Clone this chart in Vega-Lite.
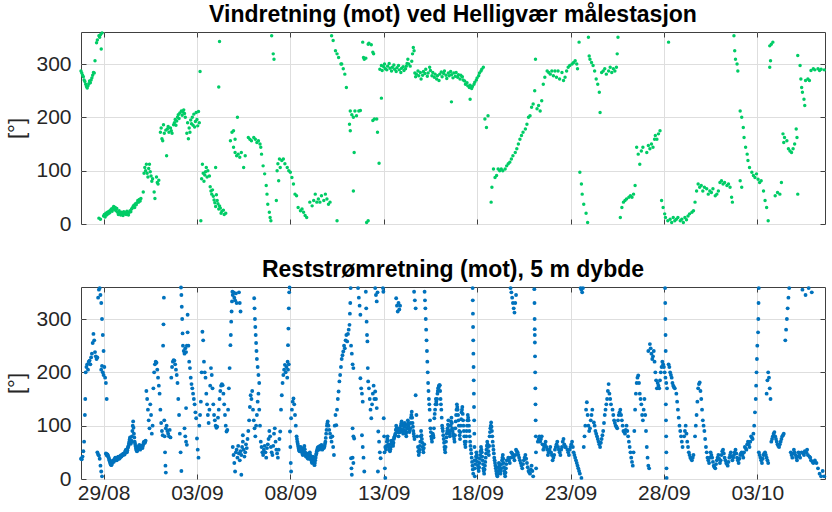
{
"$schema": "https://vega.github.io/schema/vega-lite/v6.json",
"padding": {"left": 5, "top": 3, "right": 5, "bottom": 5},
"config": {
 "font": "Liberation Sans",
 "view": {"stroke": "#404040", "strokeWidth": 1},
 "axis": {"labelFont": "Liberation Sans", "labelFontSize": 21, "labelColor": "#262626", "titleFont": "Liberation Sans", "titleFontSize": 22, "titleFontWeight": "normal", "titleColor": "#262626", "gridColor": "#dedede", "gridWidth": 1, "domain": false, "tickColor": "#404040", "tickSize": -5, "labelPadding": 15, "titlePadding": 7},
 "axisBottom": {"labelPadding": 8},
 "title": {"font": "Liberation Sans", "fontSize": 23, "fontWeight": "bold", "color": "#000000", "offset": 4, "frame": "group"},
 "concat": {"spacing": 23}
},
"datasets": {
"wind": [
{"h":19,"v":287},{"h":20,"v":283},{"h":21,"v":279},{"h":22,"v":276},{"h":23,"v":270},{"h":24,"v":267},{"h":25,"v":262},{"h":26,"v":258},{"h":27,"v":255},{"h":28,"v":259},{"h":29,"v":263},{"h":30,"v":268},{"h":31,"v":265},{"h":32,"v":270},{"h":33,"v":274},{"h":34,"v":279},{"h":35,"v":284},{"h":36,"v":283},
{"h":37,"v":306},{"h":39,"v":340},{"h":40,"v":345},{"h":42,"v":353},{"h":43,"v":350},{"h":44,"v":355},{"h":45,"v":328},{"h":46,"v":358},{"h":42,"v":11},{"h":44,"v":9},
{"h":48,"v":15},{"h":49,"v":18},{"h":50,"v":13},{"h":51,"v":20},{"h":52,"v":17},{"h":53,"v":22},{"h":54,"v":19},{"h":55,"v":24},{"h":56,"v":21},{"h":57,"v":26},{"h":58,"v":28},{"h":59,"v":24},{"h":60,"v":30},{"h":61,"v":33},{"h":62,"v":27},{"h":63,"v":31},{"h":64,"v":25},{"h":65,"v":29},{"h":66,"v":22},{"h":67,"v":18},{"h":68,"v":25},{"h":69,"v":21},{"h":70,"v":17},{"h":71,"v":22},{"h":72,"v":20},{"h":73,"v":16},{"h":74,"v":23},{"h":75,"v":19},{"h":76,"v":21},{"h":77,"v":18},{"h":78,"v":24},{"h":79,"v":20},{"h":80,"v":17},{"h":81,"v":22},{"h":82,"v":25},{"h":83,"v":23},{"h":84,"v":28},{"h":85,"v":30},{"h":86,"v":33},{"h":87,"v":35},{"h":88,"v":31},{"h":89,"v":38},{"h":90,"v":36},{"h":91,"v":40},{"h":92,"v":44},{"h":93,"v":41},{"h":94,"v":46},{"h":95,"v":43},{"h":96,"v":48},
{"h":99,"v":60},{"h":100,"v":95},{"h":101,"v":106},{"h":102,"v":100},{"h":103,"v":112},{"h":104,"v":95},{"h":105,"v":88},{"h":106,"v":104},{"h":107,"v":112},{"h":108,"v":98},{"h":109,"v":90},{"h":110,"v":80},{"h":111,"v":85},{"h":113,"v":60},{"h":114,"v":48},{"h":116,"v":88},{"h":117,"v":78},{"h":118,"v":75},{"h":119,"v":82},
{"h":121,"v":172},{"h":122,"v":180},{"h":123,"v":160},{"h":124,"v":156},{"h":125,"v":186},{"h":126,"v":170},{"h":128,"v":176},{"h":129,"v":128},{"h":130,"v":178},{"h":131,"v":183},{"h":132,"v":172},{"h":134,"v":180},{"h":135,"v":175},{"h":136,"v":170},
{"h":138,"v":186},{"h":139,"v":190},{"h":140,"v":196},{"h":141,"v":185},{"h":142,"v":193},{"h":143,"v":200},{"h":144,"v":205},{"h":145,"v":198},{"h":146,"v":208},{"h":148,"v":212},{"h":149,"v":204},{"h":150,"v":210},{"h":151,"v":214},{"h":152,"v":207},{"h":153,"v":200},
{"h":155,"v":170},{"h":156,"v":190},{"h":157,"v":160},{"h":158,"v":180},{"h":159,"v":172},{"h":160,"v":195},{"h":161,"v":188},{"h":162,"v":200},{"h":163,"v":185},{"h":164,"v":206},{"h":165,"v":182},{"h":166,"v":192},{"h":167,"v":209},{"h":168,"v":196},{"h":169,"v":184},{"h":170,"v":211},{"h":171,"v":190},
{"h":172,"v":286},
{"h":173,"v":6},{"h":174,"v":85},{"h":175,"v":112},{"h":176,"v":95},{"h":177,"v":80},{"h":178,"v":92},{"h":179,"v":98},{"h":180,"v":106},{"h":181,"v":88},{"h":182,"v":100},{"h":184,"v":90},
{"h":185,"v":70},{"h":186,"v":62},{"h":187,"v":56},{"h":188,"v":64},{"h":189,"v":52},{"h":190,"v":45},{"h":191,"v":40},{"h":192,"v":33},{"h":193,"v":55},{"h":194,"v":44},{"h":195,"v":38},{"h":196,"v":28},{"h":197,"v":34},{"h":198,"v":30},{"h":199,"v":20},{"h":200,"v":24},{"h":202,"v":26},{"h":203,"v":18},{"h":205,"v":20},{"h":196,"v":257},{"h":197,"v":342},{"h":192,"v":106},
{"h":211,"v":156},{"h":213,"v":172},{"h":215,"v":175},{"h":217,"v":159},{"h":220,"v":200},
{"h":215,"v":144},{"h":217,"v":134},{"h":219,"v":128},{"h":221,"v":131},{"h":223,"v":125},{"h":225,"v":134},{"h":230,"v":128},{"h":228,"v":106},
{"h":234,"v":162},{"h":236,"v":159},{"h":238,"v":156},{"h":241,"v":162},{"h":243,"v":159},{"h":245,"v":153},{"h":247,"v":156},{"h":249,"v":150},{"h":250,"v":144},
{"h":251,"v":131},{"h":253,"v":109},{"h":255,"v":94},{"h":257,"v":72},{"h":258,"v":56},{"h":259,"v":37},{"h":261,"v":22},{"h":262,"v":12},{"h":263,"v":6},{"h":264,"v":353},{"h":266,"v":319},{"h":267,"v":309},
{"h":271,"v":100},{"h":272,"v":113},{"h":274,"v":122},{"h":275,"v":106},{"h":277,"v":119},{"h":279,"v":122},{"h":281,"v":113},{"h":284,"v":106},{"h":286,"v":100},{"h":288,"v":97},{"h":273,"v":81},{"h":270,"v":44},
{"h":290,"v":87},{"h":292,"v":75},{"h":294,"v":56},{"h":296,"v":53},{"h":298,"v":31},{"h":301,"v":25},{"h":303,"v":28},{"h":305,"v":22},{"h":307,"v":16},{"h":309,"v":12},
{"h":313,"v":41},{"h":316,"v":34},{"h":318,"v":44},{"h":320,"v":56},{"h":322,"v":41},{"h":324,"v":47},{"h":326,"v":41},{"h":328,"v":53},{"h":331,"v":44},{"h":333,"v":56},{"h":335,"v":47},{"h":337,"v":37},{"h":339,"v":41},{"h":348,"v":6},
{"h":341,"v":353},{"h":343,"v":344},{"h":346,"v":325},{"h":348,"v":319},{"h":350,"v":312},{"h":353,"v":300},
{"h":354,"v":300},{"h":356,"v":291},{"h":358,"v":281},{"h":360,"v":256},{"h":365,"v":212},{"h":367,"v":205},{"h":369,"v":200},{"h":371,"v":212},{"h":373,"v":203},{"h":376,"v":212},{"h":378,"v":213},{"h":364,"v":187},{"h":365,"v":175},{"h":370,"v":134},{"h":369,"v":62},
{"h":381,"v":341},{"h":382,"v":312},{"h":383,"v":309},{"h":385,"v":311},{"h":388,"v":337},{"h":389,"v":339},{"h":392,"v":336},{"h":394,"v":322},{"h":395,"v":319},{"h":386,"v":3},{"h":388,"v":6},
{"h":394,"v":194},{"h":396,"v":197},{"h":399,"v":197},{"h":400,"v":172},{"h":402,"v":114},{"h":405,"v":236},
{"h":403,"v":290},{"h":405,"v":297},{"h":406,"v":288},{"h":408,"v":295},{"h":409,"v":300},{"h":410,"v":291},{"h":412,"v":289},{"h":413,"v":296},{"h":415,"v":301},{"h":416,"v":292},{"h":418,"v":287},{"h":419,"v":294},{"h":421,"v":298},{"h":422,"v":290},{"h":424,"v":286},{"h":425,"v":293},{"h":427,"v":297},{"h":428,"v":289},{"h":430,"v":284},{"h":431,"v":292},{"h":433,"v":295},{"h":434,"v":288},{"h":436,"v":291},{"h":437,"v":296},{"h":438,"v":301},{"h":439,"v":309},{"h":440,"v":300},{"h":442,"v":296},{"h":444,"v":305},{"h":445,"v":319},{"h":446,"v":331},{"h":447,"v":325},
{"h":448,"v":283},{"h":449,"v":276},{"h":450,"v":281},{"h":452,"v":287},{"h":453,"v":278},{"h":455,"v":284},{"h":456,"v":272},{"h":458,"v":279},{"h":459,"v":286},{"h":461,"v":282},{"h":462,"v":290},{"h":464,"v":277},{"h":465,"v":283},{"h":467,"v":294},{"h":468,"v":288},{"h":470,"v":278},{"h":471,"v":284},{"h":473,"v":275},{"h":474,"v":281},{"h":476,"v":272},{"h":477,"v":278},
{"h":479,"v":269},{"h":480,"v":281},{"h":482,"v":285},{"h":483,"v":276},{"h":485,"v":282},{"h":486,"v":287},{"h":488,"v":279},{"h":489,"v":273},{"h":491,"v":283},{"h":492,"v":278},{"h":494,"v":286},{"h":495,"v":280},{"h":497,"v":274},{"h":498,"v":283},{"h":500,"v":277},{"h":501,"v":284},{"h":503,"v":275},{"h":504,"v":280},{"h":506,"v":272},{"h":507,"v":279},{"h":509,"v":276},{"h":510,"v":270},{"h":495,"v":229},
{"h":512,"v":268},{"h":513,"v":262},{"h":515,"v":265},{"h":516,"v":259},{"h":518,"v":256},{"h":519,"v":260},{"h":521,"v":254},{"h":522,"v":258},{"h":524,"v":262},{"h":525,"v":266},{"h":527,"v":270},{"h":528,"v":274},{"h":530,"v":278},{"h":531,"v":283},{"h":533,"v":287},{"h":534,"v":290},{"h":536,"v":294},{"h":519,"v":234},
{"h":538,"v":197},{"h":540,"v":181},{"h":542,"v":203},
{"h":546,"v":41},{"h":547,"v":69},{"h":549,"v":103},{"h":551,"v":87},{"h":553,"v":91},{"h":555,"v":103},{"h":557,"v":100},{"h":559,"v":103},{"h":561,"v":100},{"h":564,"v":103},{"h":566,"v":109},{"h":568,"v":113},
{"h":570,"v":116},{"h":572,"v":122},{"h":574,"v":128},{"h":577,"v":134},{"h":579,"v":141},{"h":581,"v":150},{"h":583,"v":159},{"h":585,"v":166},{"h":587,"v":172},{"h":590,"v":178},{"h":592,"v":187},{"h":594,"v":200},
{"h":596,"v":203},{"h":598,"v":219},{"h":600,"v":225},{"h":602,"v":250},{"h":603,"v":309},{"h":605,"v":216},{"h":607,"v":222},{"h":609,"v":212},{"h":611,"v":231},
{"h":613,"v":262},{"h":615,"v":275},{"h":618,"v":287},{"h":620,"v":284},{"h":622,"v":281},{"h":624,"v":287},{"h":626,"v":278},{"h":628,"v":287},{"h":630,"v":275},{"h":632,"v":287},{"h":634,"v":272},{"h":637,"v":284},{"h":639,"v":269},{"h":641,"v":275},{"h":643,"v":287},
{"h":645,"v":294},{"h":647,"v":297},{"h":650,"v":300},{"h":652,"v":303},{"h":654,"v":306},{"h":656,"v":300},{"h":657,"v":291},
{"h":659,"v":341},{"h":660,"v":97},{"h":662,"v":75},{"h":663,"v":56},{"h":665,"v":37},{"h":668,"v":20},{"h":670,"v":3},
{"h":671,"v":350},{"h":672,"v":315},{"h":673,"v":309},{"h":675,"v":303},{"h":677,"v":297},{"h":679,"v":287},{"h":681,"v":272},{"h":683,"v":262},{"h":685,"v":247},{"h":686,"v":209},
{"h":688,"v":284},{"h":690,"v":287},{"h":692,"v":291},{"h":694,"v":281},{"h":697,"v":287},{"h":699,"v":294},{"h":701,"v":284},{"h":703,"v":291},{"h":705,"v":287},{"h":707,"v":294},{"h":708,"v":319},{"h":709,"v":350},
{"h":712,"v":12},{"h":714,"v":31},{"h":716,"v":41},{"h":718,"v":44},{"h":720,"v":47},{"h":723,"v":50},{"h":725,"v":53},{"h":727,"v":50},{"h":729,"v":56},{"h":731,"v":72},
{"h":733,"v":144},{"h":735,"v":131},{"h":737,"v":112},{"h":739,"v":137},{"h":741,"v":144},{"h":746,"v":134},{"h":748,"v":147},{"h":750,"v":141},{"h":752,"v":150},{"h":754,"v":144},{"h":756,"v":159},{"h":757,"v":166},{"h":759,"v":159},{"h":761,"v":169},{"h":763,"v":175},
{"h":765,"v":44},{"h":767,"v":31},{"h":769,"v":19},
{"h":770,"v":12},{"h":773,"v":6},{"h":776,"v":9},{"h":778,"v":3},{"h":780,"v":12},{"h":782,"v":6},{"h":784,"v":9},{"h":786,"v":12},{"h":789,"v":6},{"h":791,"v":9},{"h":793,"v":3},{"h":795,"v":12},{"h":797,"v":8},{"h":799,"v":15},{"h":801,"v":19},{"h":804,"v":22},{"h":806,"v":25},{"h":774,"v":341},
{"h":808,"v":41},{"h":810,"v":62},{"h":812,"v":75},{"h":814,"v":69},{"h":816,"v":72},{"h":818,"v":62},{"h":820,"v":69},{"h":823,"v":66},{"h":825,"v":56},{"h":827,"v":62},{"h":829,"v":59},{"h":831,"v":66},{"h":834,"v":53},{"h":836,"v":56},{"h":838,"v":62},
{"h":840,"v":78},{"h":842,"v":81},{"h":844,"v":75},{"h":846,"v":78},{"h":849,"v":72},{"h":851,"v":75},{"h":853,"v":69},{"h":855,"v":50},{"h":856,"v":41},
{"h":858,"v":353},{"h":859,"v":325},{"h":860,"v":309},{"h":862,"v":300},{"h":863,"v":287},
{"h":866,"v":212},{"h":868,"v":200},{"h":870,"v":181},{"h":871,"v":162},{"h":873,"v":144},{"h":875,"v":131},{"h":876,"v":119},{"h":878,"v":106},{"h":881,"v":97},{"h":883,"v":91},{"h":885,"v":87},{"h":866,"v":81},{"h":868,"v":69},
{"h":887,"v":94},{"h":889,"v":84},{"h":891,"v":78},{"h":893,"v":81},{"h":896,"v":62},{"h":898,"v":44},{"h":900,"v":31},{"h":902,"v":6},
{"h":904,"v":334},{"h":906,"v":337},{"h":908,"v":341},{"h":904,"v":294},{"h":905,"v":306},
{"h":911,"v":53},{"h":914,"v":59},{"h":917,"v":56},{"h":919,"v":78},{"h":921,"v":169},
{"h":922,"v":153},{"h":923,"v":162},{"h":926,"v":156},{"h":928,"v":141},{"h":930,"v":137},{"h":932,"v":134},{"h":934,"v":141},{"h":936,"v":150},{"h":938,"v":178},{"h":940,"v":56},{"h":939,"v":162},
{"h":940,"v":316},{"h":943,"v":297},{"h":944,"v":272},{"h":945,"v":256},{"h":946,"v":247},{"h":948,"v":234},{"h":949,"v":222},
{"h":950,"v":269},{"h":953,"v":272},{"h":955,"v":269},
{"h":957,"v":288},{"h":960,"v":291},{"h":962,"v":289},{"h":966,"v":291},{"h":968,"v":288},{"h":970,"v":290},{"h":974,"v":289}
],
"cur": [
{"h":19,"v":38},{"h":20,"v":37},{"h":21,"v":42},{"h":22,"v":52},{"h":23,"v":70},{"h":24,"v":120},{"h":24.5,"v":150},{"h":25,"v":200},{"h":26,"v":210},{"h":27,"v":215},{"h":28,"v":205},{"h":29,"v":220},{"h":30,"v":222},{"h":31,"v":215},{"h":32,"v":228},{"h":33,"v":235},{"h":34,"v":255},{"h":35,"v":272},{"h":36,"v":260},{"h":37,"v":238},{"h":38,"v":230},{"h":39,"v":225},{"h":40,"v":228},
{"h":41,"v":340},{"h":42,"v":355},{"h":43,"v":358},{"h":44,"v":345},{"h":45,"v":330},{"h":46,"v":300},{"h":47,"v":270},{"h":48,"v":240},
{"h":45,"v":205},{"h":46,"v":212},{"h":47,"v":200},{"h":48,"v":195},{"h":49,"v":210},{"h":50,"v":190},{"h":51,"v":180},{"h":52,"v":150},
{"h":40,"v":50},{"h":41,"v":46},{"h":42,"v":44},{"h":43,"v":38},{"h":44,"v":25},{"h":45,"v":14},{"h":46,"v":5},
{"h":51,"v":48},{"h":52,"v":45},{"h":53,"v":46},{"h":54,"v":42},{"h":55,"v":38},{"h":56,"v":33},{"h":57,"v":28},{"h":58,"v":26},{"h":59,"v":30},{"h":60,"v":35},{"h":61,"v":32},{"h":62,"v":36},{"h":63,"v":40},{"h":64,"v":38},{"h":65,"v":35},{"h":66,"v":40},{"h":67,"v":42},{"h":68,"v":38},{"h":69,"v":40},{"h":70,"v":44},{"h":71,"v":42},{"h":72,"v":46},{"h":73,"v":45},{"h":74,"v":48},{"h":75,"v":46},{"h":76,"v":52},{"h":77,"v":55},{"h":78,"v":50},{"h":79,"v":58},{"h":80,"v":62},{"h":81,"v":70},{"h":82,"v":78},{"h":83,"v":66},{"h":84,"v":72},{"h":85,"v":90},{"h":86,"v":108},{"h":87,"v":85},{"h":88,"v":70},{"h":89,"v":62},{"h":90,"v":55},{"h":91,"v":52},{"h":92,"v":58},{"h":93,"v":60},{"h":94,"v":64},{"h":95,"v":55},{"h":96,"v":60},{"h":97,"v":62},{"h":98,"v":58},{"h":99,"v":65},{"h":100,"v":70},{"h":101,"v":68},{"h":102,"v":72},
{"h":51.5,"v":47},{"h":52.5,"v":44},{"h":53.5,"v":44},{"h":54.5,"v":40},{"h":55.5,"v":35},{"h":56.5,"v":30},{"h":57.5,"v":27},{"h":58.5,"v":28},{"h":59.5,"v":33},{"h":60.5,"v":34},{"h":61.5,"v":34},{"h":62.5,"v":38},{"h":63.5,"v":39},{"h":64.5,"v":36},{"h":65.5,"v":38},{"h":66.5,"v":41},{"h":67.5,"v":40},{"h":68.5,"v":39},{"h":69.5,"v":42},{"h":70.5,"v":43},{"h":71.5,"v":44},{"h":72.5,"v":46},{"h":73.5,"v":47},{"h":74.5,"v":47},{"h":75.5,"v":49},{"h":76.5,"v":54},{"h":77.5,"v":52},{"h":78.5,"v":54},{"h":79.5,"v":60},{"h":80.5,"v":66},{"h":81.5,"v":74},{"h":82.5,"v":72},{"h":83.5,"v":69},{"h":84.5,"v":80},{"h":85.5,"v":100},{"h":86.5,"v":96},{"h":87.5,"v":78},{"h":88.5,"v":66},{"h":89.5,"v":58},{"h":90.5,"v":53},{"h":91.5,"v":55},{"h":92.5,"v":59},{"h":93.5,"v":62},{"h":94.5,"v":60},{"h":95.5,"v":57},{"h":96.5,"v":61},{"h":97.5,"v":60},{"h":98.5,"v":62},{"h":99.5,"v":68},{"h":100.5,"v":69},{"h":101.5,"v":70},
{"h":103,"v":165},{"h":104,"v":150},{"h":105,"v":130},{"h":106,"v":110},{"h":107,"v":95},{"h":108,"v":140},{"h":109,"v":120},{"h":110,"v":85},{"h":111,"v":100},
{"h":112,"v":170},{"h":113,"v":200},{"h":114,"v":215},{"h":115,"v":220},{"h":116,"v":218},{"h":117,"v":205},{"h":118,"v":190},{"h":119,"v":175},{"h":120,"v":160},
{"h":121,"v":130},{"h":122,"v":105},{"h":123,"v":90},{"h":124,"v":82},
{"h":124.5,"v":250},{"h":125,"v":290},{"h":125.5,"v":340},{"h":126,"v":110},{"h":126.5,"v":80},{"h":127,"v":50},{"h":127.5,"v":25},{"h":128,"v":12},
{"h":128,"v":95},{"h":129,"v":100},{"h":130,"v":90},{"h":131,"v":85},{"h":132,"v":80},{"h":133,"v":92},{"h":134,"v":78},
{"h":135,"v":190},{"h":136,"v":210},{"h":137,"v":220},{"h":138,"v":223},{"h":139,"v":222},{"h":140,"v":215},{"h":141,"v":205},{"h":142,"v":195},{"h":143,"v":180},
{"h":144,"v":150},{"h":145,"v":120},{"h":146,"v":85},{"h":147,"v":50},{"h":148,"v":15},
{"h":147.5,"v":359},{"h":148,"v":345},{"h":148.5,"v":323},{"h":149,"v":300},{"h":149.5,"v":273},
{"h":150,"v":250},{"h":151,"v":240},{"h":152,"v":235},{"h":153,"v":245},{"h":154,"v":238},{"h":155,"v":250},{"h":156,"v":275},{"h":156,"v":308},
{"h":152,"v":95},{"h":153,"v":80},{"h":154,"v":70},{"h":155,"v":64},{"h":154,"v":133},
{"h":157,"v":250},{"h":158,"v":220},{"h":159,"v":208},{"h":160,"v":190},{"h":161,"v":178},{"h":162,"v":170},{"h":163,"v":160},{"h":164,"v":150},{"h":165,"v":140},{"h":166,"v":125},{"h":167,"v":114},
{"h":168,"v":76},{"h":169,"v":55},{"h":170,"v":40},
{"h":171,"v":100},{"h":172,"v":120},{"h":173,"v":145},{"h":174,"v":200},{"h":175,"v":276},{"h":176,"v":260},{"h":177,"v":220},{"h":178,"v":200},{"h":179,"v":190},
{"h":180,"v":160},{"h":181,"v":140},{"h":182,"v":120},{"h":183,"v":105},{"h":184,"v":130},{"h":185,"v":175},{"h":186,"v":208},{"h":187,"v":195},{"h":188,"v":170},{"h":189,"v":140},{"h":190,"v":120},
{"h":191,"v":110},{"h":192,"v":100},{"h":193,"v":96},{"h":194,"v":98},{"h":195,"v":115},
{"h":196,"v":130},{"h":197,"v":150},{"h":198,"v":165},{"h":199,"v":175},{"h":200,"v":178},{"h":201,"v":176},{"h":202,"v":160},
{"h":203,"v":140},{"h":204,"v":120},{"h":205,"v":100},{"h":206,"v":89},{"h":207,"v":92},
{"h":208,"v":130},{"h":209,"v":170},{"h":210,"v":208},{"h":211,"v":251},{"h":211.5,"v":270},{"h":212,"v":295},{"h":212.5,"v":314},{"h":213,"v":333},{"h":213.5,"v":351},
{"h":214,"v":345},{"h":215,"v":350},{"h":216,"v":340},{"h":217,"v":335},{"h":218,"v":348},{"h":219,"v":330},
{"h":214,"v":60},{"h":215,"v":45},{"h":216,"v":30},{"h":217,"v":14},
{"h":218,"v":50},{"h":219,"v":55},{"h":220,"v":40},{"h":221,"v":62},{"h":222,"v":48},{"h":223,"v":35},{"h":224,"v":52},{"h":225,"v":45},{"h":226,"v":60},{"h":227,"v":70},{"h":228,"v":55},{"h":229,"v":42},{"h":230,"v":50},{"h":231,"v":65},{"h":232,"v":58},{"h":233,"v":75},{"h":225,"v":8},{"h":227,"v":82},
{"h":222,"v":350},{"h":223,"v":330},{"h":224,"v":314},
{"h":234,"v":90},{"h":235,"v":110},{"h":236,"v":135},{"h":237,"v":157},{"h":238,"v":150},{"h":239,"v":165},{"h":240,"v":130},{"h":241,"v":110},{"h":242,"v":95},{"h":243,"v":80},{"h":244,"v":100},{"h":245,"v":120},{"h":246,"v":145},{"h":247,"v":160},{"h":248,"v":130},{"h":249,"v":100},
{"h":241.5,"v":339},{"h":242,"v":320},{"h":242.5,"v":300},{"h":243,"v":285},{"h":243.5,"v":270},{"h":244,"v":255},{"h":244.5,"v":240},{"h":245,"v":225},{"h":246,"v":210},{"h":247,"v":195},{"h":248,"v":180},
{"h":250,"v":70},{"h":251,"v":60},{"h":252,"v":50},{"h":253,"v":45},{"h":254,"v":55},{"h":255,"v":62},{"h":256,"v":50},{"h":257,"v":40},{"h":258,"v":58},{"h":259,"v":65},
{"h":260,"v":75},{"h":261,"v":90},{"h":262,"v":80},{"h":263,"v":60},{"h":264,"v":50},{"h":265,"v":45},{"h":266,"v":62},{"h":267,"v":85},{"h":268,"v":95},{"h":269,"v":70},{"h":270,"v":55},{"h":271,"v":48},
{"h":272,"v":40},{"h":273,"v":55},{"h":274,"v":75},{"h":275,"v":89},
{"h":276,"v":130},{"h":277,"v":157},{"h":278,"v":180},{"h":279,"v":195},{"h":280,"v":205},{"h":281,"v":214},{"h":282,"v":200},{"h":283,"v":210},{"h":284,"v":190},{"h":285,"v":205},{"h":286,"v":215},
{"h":284.5,"v":220},{"h":285,"v":251},{"h":285.5,"v":282},{"h":286,"v":320},{"h":286.5,"v":350},{"h":287,"v":359},{"h":287.5,"v":89},{"h":288,"v":60},{"h":288.5,"v":30},{"h":289,"v":14},
{"h":289,"v":114},{"h":290,"v":130},{"h":291,"v":145},{"h":292,"v":151},{"h":293,"v":140},{"h":294,"v":120},{"h":295,"v":100},
{"h":296,"v":80},{"h":297,"v":70},{"h":298,"v":62},{"h":299,"v":55},{"h":300,"v":52},{"h":301,"v":60},{"h":302,"v":58},{"h":303,"v":50},{"h":304,"v":45},{"h":305,"v":55},{"h":306,"v":62},{"h":307,"v":50},{"h":308,"v":42},{"h":309,"v":48},{"h":310,"v":40},{"h":311,"v":38},{"h":312,"v":45},{"h":313,"v":50},{"h":314,"v":40},{"h":315,"v":35},{"h":316,"v":30},{"h":317,"v":42},{"h":318,"v":38},{"h":319,"v":26},
{"h":320,"v":35},{"h":321,"v":45},{"h":322,"v":52},{"h":323,"v":58},{"h":324,"v":60},{"h":325,"v":55},{"h":326,"v":62},{"h":327,"v":58},{"h":328,"v":64},{"h":329,"v":55},{"h":330,"v":60},{"h":331,"v":58},{"h":332,"v":62},{"h":333,"v":70},{"h":334,"v":85},{"h":335,"v":100},{"h":336,"v":108},
{"h":296.5,"v":75},{"h":297.5,"v":66},{"h":298.5,"v":58},{"h":299.5,"v":53},{"h":300.5,"v":56},{"h":301.5,"v":59},{"h":302.5,"v":54},{"h":303.5,"v":47},{"h":304.5,"v":50},{"h":305.5,"v":58},{"h":306.5,"v":56},{"h":307.5,"v":46},{"h":308.5,"v":45},{"h":309.5,"v":44},{"h":310.5,"v":39},{"h":311.5,"v":41},{"h":312.5,"v":48},{"h":313.5,"v":45},{"h":314.5,"v":37},{"h":315.5,"v":32},{"h":316.5,"v":36},{"h":317.5,"v":40},{"h":318.5,"v":32},{"h":319.5,"v":30},{"h":320.5,"v":40},{"h":321.5,"v":48},{"h":322.5,"v":55},{"h":323.5,"v":59},{"h":324.5,"v":57},{"h":325.5,"v":58},{"h":326.5,"v":60},{"h":327.5,"v":61},{"h":328.5,"v":60},{"h":329.5,"v":57},{"h":330.5,"v":59},{"h":331.5,"v":60},{"h":332.5,"v":66},{"h":333.5,"v":77},{"h":334.5,"v":92},{"h":335.5,"v":104},
{"h":337,"v":100},{"h":338,"v":92},{"h":339,"v":85},{"h":340,"v":78},{"h":341,"v":70},{"h":342,"v":80},{"h":343,"v":60},{"h":344,"v":45},
{"h":345,"v":100},{"h":346,"v":120},{"h":347,"v":101},{"h":348,"v":130},{"h":349,"v":150},{"h":350,"v":164},{"h":351,"v":183},{"h":352,"v":195},{"h":353,"v":210},{"h":354,"v":225},{"h":355,"v":232},{"h":356,"v":239},{"h":357,"v":250},
{"h":358,"v":245},{"h":359,"v":260},{"h":360,"v":270},{"h":361,"v":258},{"h":362,"v":272},{"h":363,"v":280},{"h":364,"v":289},{"h":364.5,"v":310},{"h":365,"v":330},{"h":365.5,"v":358},
{"h":366,"v":250},{"h":367,"v":235},{"h":368,"v":215},{"h":369,"v":208},{"h":368,"v":95},{"h":369,"v":80},{"h":370,"v":76},{"h":366,"v":39},{"h":366.5,"v":20},{"h":367,"v":8},{"h":368,"v":40},{"h":369,"v":30},
{"h":375,"v":358},{"h":376,"v":340},{"h":377,"v":325},{"h":378,"v":308},
{"h":378,"v":189},{"h":379,"v":170},{"h":380,"v":160},{"h":381,"v":145},{"h":380,"v":82},{"h":381,"v":60},{"h":382,"v":40},{"h":383,"v":14},
{"h":385,"v":351},{"h":385.5,"v":320},{"h":386,"v":295},{"h":386.5,"v":270},{"h":387,"v":258},{"h":387.5,"v":208},
{"h":388,"v":183},{"h":389,"v":170},{"h":390,"v":150},{"h":391,"v":130},{"h":392,"v":114},{"h":393,"v":140},{"h":394,"v":160},{"h":395,"v":175},{"h":396,"v":150},
{"h":397,"v":358},{"h":398,"v":345},{"h":399,"v":333},{"h":400,"v":350},
{"h":397,"v":164},{"h":398,"v":150},{"h":399,"v":133},{"h":401,"v":89},{"h":402,"v":70},{"h":403,"v":50},{"h":404,"v":39},{"h":400.5,"v":14},
{"h":407,"v":358},{"h":407.5,"v":351},{"h":408,"v":114},{"h":408.5,"v":80},{"h":409,"v":50},{"h":409.5,"v":20},{"h":410,"v":2},
{"h":410,"v":60},{"h":411,"v":55},{"h":412,"v":70},{"h":413,"v":80},{"h":414,"v":65},{"h":415,"v":58},{"h":416,"v":52},{"h":417,"v":60},{"h":418,"v":72},{"h":419,"v":68},{"h":420,"v":62},{"h":421,"v":75},{"h":422,"v":80},{"h":423,"v":85},{"h":424,"v":100},{"h":425,"v":90},{"h":426,"v":95},
{"h":424,"v":339},{"h":425,"v":325},{"h":426,"v":314},{"h":427,"v":330},{"h":428,"v":318},{"h":429,"v":325},
{"h":427,"v":80},{"h":428,"v":95},{"h":429,"v":88},{"h":430,"v":100},{"h":431,"v":108},{"h":432,"v":92},{"h":433,"v":85},{"h":434,"v":98},{"h":435,"v":105},{"h":436,"v":90},{"h":437,"v":80},{"h":438,"v":95},{"h":439,"v":110},{"h":440,"v":100},{"h":441,"v":88},{"h":442,"v":95},{"h":443,"v":115},{"h":444,"v":126},{"h":445,"v":105},{"h":446,"v":90},{"h":447,"v":80},
{"h":410.5,"v":58},{"h":411.5,"v":62},{"h":412.5,"v":75},{"h":413.5,"v":72},{"h":414.5,"v":61},{"h":415.5,"v":55},{"h":416.5,"v":56},{"h":417.5,"v":66},{"h":418.5,"v":70},{"h":419.5,"v":65},{"h":420.5,"v":68},{"h":421.5,"v":78},{"h":422.5,"v":82},{"h":423.5,"v":92},{"h":424.5,"v":95},{"h":425.5,"v":92},{"h":426.5,"v":88},{"h":427.5,"v":87},{"h":428.5,"v":92},{"h":429.5,"v":94},{"h":430.5,"v":104},{"h":431.5,"v":100},{"h":432.5,"v":88},{"h":433.5,"v":92},{"h":434.5,"v":102},{"h":435.5,"v":98},{"h":436.5,"v":85},{"h":437.5,"v":88},{"h":438.5,"v":102},{"h":439.5,"v":105},{"h":440.5,"v":94},{"h":441.5,"v":92},{"h":442.5,"v":105},{"h":443.5,"v":120},{"h":444.5,"v":115},{"h":445.5,"v":98},{"h":446.5,"v":85},{"h":447.5,"v":75},
{"h":447,"v":351},{"h":448,"v":335},{"h":449,"v":320},{"h":449,"v":157},{"h":450,"v":120},{"h":451,"v":80},
{"h":452,"v":60},{"h":453,"v":45},{"h":454,"v":55},{"h":455,"v":70},{"h":456,"v":90},{"h":457,"v":75},{"h":458,"v":60},{"h":459,"v":50},{"h":460,"v":65},
{"h":452.5,"v":52},{"h":453.5,"v":50},{"h":454.5,"v":62},{"h":455.5,"v":80},{"h":456.5,"v":82},{"h":457.5,"v":68},{"h":458.5,"v":55},{"h":459.5,"v":58},
{"h":460.5,"v":351},{"h":461,"v":335},{"h":461.5,"v":320},{"h":462,"v":300},{"h":462.5,"v":280},{"h":463,"v":260},{"h":463.5,"v":240},{"h":464,"v":220},{"h":464.5,"v":200},{"h":465,"v":180},{"h":465.5,"v":165},{"h":466,"v":150},
{"h":467,"v":130},{"h":468,"v":95},{"h":469,"v":80},{"h":470,"v":70},{"h":471,"v":85},{"h":472,"v":78},
{"h":473,"v":114},{"h":474,"v":130},{"h":475,"v":150},{"h":476,"v":140},{"h":477,"v":160},{"h":478,"v":170},{"h":479,"v":175},{"h":480,"v":176},{"h":481,"v":150},{"h":482,"v":130},
{"h":483,"v":100},{"h":484,"v":90},{"h":485,"v":75},{"h":486,"v":60},{"h":487,"v":50},{"h":488,"v":70},{"h":489,"v":85},{"h":490,"v":95},
{"h":491,"v":110},{"h":492,"v":90},{"h":493,"v":80},{"h":494,"v":100},{"h":495,"v":115},{"h":496,"v":95},{"h":497,"v":85},
{"h":466.5,"v":140},{"h":467.5,"v":110},{"h":468.5,"v":88},{"h":469.5,"v":75},{"h":470.5,"v":78},{"h":471.5,"v":82},{"h":472.5,"v":95},{"h":473.5,"v":122},{"h":474.5,"v":140},{"h":475.5,"v":145},{"h":476.5,"v":150},{"h":477.5,"v":165},{"h":478.5,"v":172},{"h":479.5,"v":176},{"h":480.5,"v":165},{"h":481.5,"v":140},{"h":482.5,"v":115},{"h":483.5,"v":95},{"h":484.5,"v":82},{"h":485.5,"v":68},{"h":486.5,"v":55},{"h":487.5,"v":60},{"h":488.5,"v":78},{"h":489.5,"v":90},{"h":490.5,"v":102},{"h":491.5,"v":100},{"h":492.5,"v":85},{"h":493.5,"v":90},{"h":494.5,"v":108},{"h":495.5,"v":105},{"h":496.5,"v":90},{"h":497.5,"v":82},
{"h":498,"v":80},{"h":499,"v":70},{"h":500,"v":95},{"h":501,"v":120},{"h":502,"v":140},{"h":503,"v":130},{"h":504,"v":110},{"h":505,"v":90},{"h":506,"v":75},{"h":507,"v":100},{"h":508,"v":125},{"h":509,"v":135},{"h":510,"v":110},{"h":511,"v":90},{"h":512,"v":70},{"h":513,"v":60},{"h":514,"v":80},{"h":515,"v":100},{"h":516,"v":120},{"h":517,"v":110},{"h":518,"v":90},{"h":519,"v":70},{"h":520,"v":55},{"h":521,"v":40},{"h":522,"v":25},{"h":523,"v":10},
{"h":498.5,"v":75},{"h":499.5,"v":82},{"h":500.5,"v":108},{"h":501.5,"v":130},{"h":502.5,"v":135},{"h":503.5,"v":120},{"h":504.5,"v":100},{"h":505.5,"v":82},{"h":506.5,"v":88},{"h":507.5,"v":112},{"h":508.5,"v":130},{"h":509.5,"v":122},{"h":510.5,"v":100},{"h":511.5,"v":80},{"h":512.5,"v":65},{"h":513.5,"v":70},{"h":514.5,"v":90},{"h":515.5,"v":110},{"h":516.5,"v":115},{"h":517.5,"v":100},{"h":518.5,"v":80},{"h":519.5,"v":62},{"h":520.5,"v":48},{"h":521.5,"v":32},{"h":522.5,"v":18},
{"h":522.2,"v":358},{"h":522.4,"v":335},{"h":522.6,"v":310},{"h":522.8,"v":285},{"h":523,"v":260},{"h":523.2,"v":235},{"h":523.4,"v":210},{"h":523.6,"v":185},{"h":523.8,"v":160},{"h":524,"v":135},{"h":524.2,"v":110},{"h":524.4,"v":85},{"h":524.6,"v":60},{"h":524.8,"v":35},{"h":525,"v":5},
{"h":525,"v":20},{"h":526,"v":35},{"h":527,"v":50},{"h":528,"v":40},{"h":529,"v":25},{"h":530,"v":15},{"h":531,"v":30},{"h":532,"v":45},{"h":533,"v":60},{"h":534,"v":50},{"h":535,"v":35},{"h":536,"v":20},{"h":537,"v":10},{"h":538,"v":25},{"h":539,"v":40},{"h":540,"v":55},{"h":541,"v":70},{"h":542,"v":60},{"h":543,"v":45},{"h":544,"v":80},{"h":545,"v":95},{"h":546,"v":106},{"h":547,"v":90},{"h":548,"v":70},{"h":549,"v":55},{"h":550,"v":40},{"h":551,"v":30},{"h":552,"v":20},{"h":553,"v":10},{"h":554,"v":5},{"h":555,"v":15},{"h":556,"v":30},{"h":557,"v":25},{"h":558,"v":10},{"h":559,"v":20},{"h":560,"v":35},{"h":561,"v":45},{"h":562,"v":30},{"h":563,"v":15},{"h":564,"v":5},{"h":565,"v":20},{"h":566,"v":35},
{"h":525.5,"v":28},{"h":526.5,"v":42},{"h":527.5,"v":45},{"h":528.5,"v":32},{"h":529.5,"v":20},{"h":530.5,"v":22},{"h":531.5,"v":38},{"h":532.5,"v":52},{"h":533.5,"v":55},{"h":534.5,"v":42},{"h":535.5,"v":28},{"h":536.5,"v":15},{"h":537.5,"v":18},{"h":538.5,"v":32},{"h":539.5,"v":48},{"h":540.5,"v":62},{"h":541.5,"v":65},{"h":542.5,"v":52},{"h":543.5,"v":62},{"h":544.5,"v":88},{"h":545.5,"v":100},{"h":546.5,"v":98},{"h":547.5,"v":80},{"h":548.5,"v":62},{"h":549.5,"v":48},{"h":550.5,"v":35},{"h":551.5,"v":25},{"h":552.5,"v":15},{"h":553.5,"v":8},{"h":554.5,"v":10},{"h":555.5,"v":22},{"h":556.5,"v":28},{"h":557.5,"v":18},{"h":558.5,"v":15},{"h":559.5,"v":28},{"h":560.5,"v":40},{"h":561.5,"v":38},{"h":562.5,"v":22},{"h":563.5,"v":10},{"h":564.5,"v":12},{"h":565.5,"v":28},
{"h":571,"v":358},{"h":572,"v":350},{"h":573,"v":340},{"h":574,"v":330},{"h":575,"v":320},{"h":576,"v":312},{"h":577,"v":330},{"h":578,"v":345},
{"h":568,"v":40},{"h":570,"v":30},{"h":572,"v":50},{"h":574,"v":45},{"h":576,"v":35},{"h":578,"v":55},{"h":580,"v":50},{"h":582,"v":40},{"h":584,"v":30},{"h":586,"v":20},{"h":588,"v":35},{"h":590,"v":45},{"h":592,"v":30},{"h":594,"v":15},{"h":596,"v":10},{"h":598,"v":25},{"h":600,"v":5},
{"h":569,"v":35},{"h":571,"v":40},{"h":573,"v":48},{"h":575,"v":40},{"h":577,"v":45},{"h":579,"v":52},{"h":581,"v":45},{"h":583,"v":35},{"h":585,"v":25},{"h":587,"v":28},{"h":589,"v":40},{"h":591,"v":38},{"h":593,"v":22},{"h":595,"v":12},{"h":597,"v":18},{"h":599,"v":15},
{"h":601.5,"v":356},{"h":601.7,"v":330},{"h":601.9,"v":300},{"h":602,"v":281},{"h":602.1,"v":270},{"h":602.2,"v":256},{"h":602.4,"v":230},{"h":602.6,"v":200},{"h":602.8,"v":170},{"h":603,"v":140},{"h":603.2,"v":110},{"h":603.4,"v":80},{"h":603.6,"v":50},{"h":603.8,"v":20},
{"h":606,"v":70},{"h":608,"v":80},{"h":610,"v":75},{"h":612,"v":65},{"h":614,"v":60},{"h":616,"v":70},{"h":618,"v":55},{"h":620,"v":50},{"h":622,"v":60},{"h":624,"v":45},{"h":626,"v":40},{"h":628,"v":55},{"h":630,"v":65},{"h":632,"v":60},{"h":634,"v":50},{"h":636,"v":55},{"h":638,"v":70},{"h":640,"v":65},{"h":642,"v":60},
{"h":607,"v":75},{"h":609,"v":70},{"h":611,"v":80},{"h":613,"v":55},{"h":615,"v":65},{"h":617,"v":60},{"h":619,"v":45},{"h":621,"v":55},{"h":623,"v":50},{"h":625,"v":35},{"h":627,"v":45},{"h":629,"v":60},{"h":631,"v":70},{"h":633,"v":55},{"h":635,"v":45},{"h":637,"v":60},{"h":639,"v":75},{"h":641,"v":60},
{"h":644,"v":55},{"h":646,"v":45},{"h":648,"v":60},{"h":650,"v":70},{"h":652,"v":50},{"h":654,"v":40},{"h":656,"v":30},{"h":658,"v":20},{"h":660,"v":10},{"h":662,"v":2},{"h":645,"v":50},{"h":647,"v":55},{"h":649,"v":65},{"h":651,"v":60},{"h":653,"v":45},{"h":655,"v":35},{"h":657,"v":25},{"h":659,"v":15},
{"h":661,"v":358},{"h":662,"v":355},{"h":663,"v":350},{"h":664,"v":358},
{"h":665,"v":60},{"h":667,"v":100},{"h":668,"v":130},{"h":669,"v":144},{"h":670,"v":120},{"h":671,"v":100},{"h":672,"v":90},{"h":674,"v":110},{"h":676,"v":130},{"h":666,"v":80},{"h":673,"v":95},{"h":675,"v":120},
{"h":678,"v":106},{"h":680,"v":90},{"h":682,"v":80},{"h":684,"v":70},{"h":686,"v":60},{"h":688,"v":75},{"h":690,"v":90},{"h":679,"v":100},{"h":681,"v":85},{"h":683,"v":75},{"h":685,"v":65},{"h":687,"v":68},{"h":689,"v":82},
{"h":692,"v":120},{"h":694,"v":140},{"h":696,"v":165},{"h":697,"v":178},{"h":698,"v":160},{"h":700,"v":140},{"h":691,"v":105},{"h":693,"v":130},{"h":695,"v":150},{"h":699,"v":150},
{"h":702,"v":130},{"h":704,"v":110},{"h":706,"v":100},{"h":708,"v":95},{"h":710,"v":120},{"h":712,"v":130},{"h":714,"v":110},{"h":716,"v":90},{"h":718,"v":85},{"h":720,"v":100},{"h":722,"v":80},{"h":724,"v":60},{"h":726,"v":40},{"h":728,"v":25},{"h":703,"v":120},{"h":705,"v":105},{"h":707,"v":98},{"h":709,"v":110},{"h":711,"v":125},{"h":713,"v":120},{"h":715,"v":100},{"h":717,"v":88},{"h":719,"v":92},{"h":721,"v":90},{"h":723,"v":70},{"h":725,"v":50},{"h":727,"v":32},
{"h":729,"v":50},{"h":730,"v":90},{"h":731,"v":130},{"h":732,"v":160},{"h":733,"v":180},{"h":734,"v":190},{"h":735,"v":194},{"h":736,"v":180},{"h":737,"v":160},{"h":738,"v":150},
{"h":739,"v":140},{"h":740,"v":120},{"h":741,"v":110},{"h":742,"v":130},{"h":743,"v":150},{"h":744,"v":120},{"h":745,"v":90},{"h":746,"v":60},{"h":747,"v":40},{"h":748,"v":25},{"h":749,"v":20},
{"h":748,"v":240},{"h":750,"v":253},{"h":751,"v":245},{"h":752,"v":235},{"h":753,"v":225},{"h":754,"v":230},{"h":755,"v":240},{"h":756,"v":220},{"h":757,"v":200},{"h":758,"v":185},{"h":759,"v":170},
{"h":760,"v":180},{"h":762,"v":170},{"h":764,"v":200},{"h":766,"v":220},{"h":768,"v":210},{"h":770,"v":190},{"h":772,"v":170},{"h":761,"v":175},{"h":763,"v":185},{"h":765,"v":210},{"h":767,"v":215},{"h":769,"v":200},{"h":771,"v":180},
{"h":769.5,"v":358},{"h":769.7,"v":330},{"h":769.9,"v":300},{"h":770.1,"v":270},{"h":770.3,"v":240},{"h":770.5,"v":140},{"h":770.7,"v":110},{"h":770.9,"v":80},{"h":771.1,"v":50},{"h":771.3,"v":20},{"h":771.5,"v":2},
{"h":774,"v":215},{"h":776,"v":200},{"h":778,"v":190},{"h":780,"v":175},{"h":782,"v":170},{"h":775,"v":210},{"h":777,"v":195},{"h":779,"v":180},{"h":781,"v":172},
{"h":784,"v":160},{"h":786,"v":130},{"h":788,"v":100},{"h":790,"v":80},{"h":792,"v":60},{"h":785,"v":145},{"h":787,"v":115},{"h":789,"v":90},{"h":791,"v":70},
{"h":794,"v":80},{"h":796,"v":100},{"h":798,"v":70},{"h":800,"v":50},{"h":802,"v":40},{"h":804,"v":35},{"h":806,"v":45},{"h":795,"v":90},{"h":797,"v":85},{"h":799,"v":60},{"h":801,"v":45},{"h":803,"v":38},{"h":805,"v":40},
{"h":808,"v":80},{"h":810,"v":120},{"h":812,"v":170},{"h":814,"v":181},{"h":816,"v":150},{"h":818,"v":110},{"h":820,"v":90},{"h":809,"v":100},{"h":811,"v":145},{"h":813,"v":178},{"h":815,"v":165},{"h":817,"v":130},{"h":819,"v":100},
{"h":822,"v":60},{"h":824,"v":40},{"h":826,"v":30},{"h":828,"v":50},{"h":830,"v":40},{"h":832,"v":25},{"h":834,"v":20},{"h":836,"v":35},{"h":838,"v":45},{"h":821,"v":75},{"h":823,"v":50},{"h":825,"v":35},{"h":827,"v":40},{"h":829,"v":45},{"h":831,"v":32},{"h":833,"v":22},{"h":835,"v":28},{"h":837,"v":40},
{"h":840,"v":30},{"h":842,"v":45},{"h":844,"v":55},{"h":846,"v":40},{"h":848,"v":30},{"h":850,"v":25},{"h":852,"v":40},{"h":854,"v":50},{"h":856,"v":35},{"h":858,"v":45},{"h":860,"v":55},{"h":862,"v":40},{"h":864,"v":30},{"h":866,"v":45},{"h":868,"v":50},{"h":870,"v":40},{"h":872,"v":60},{"h":874,"v":55},
{"h":839,"v":38},{"h":841,"v":35},{"h":843,"v":52},{"h":845,"v":48},{"h":847,"v":35},{"h":849,"v":28},{"h":851,"v":32},{"h":853,"v":45},{"h":855,"v":42},{"h":857,"v":40},{"h":859,"v":50},{"h":861,"v":48},{"h":863,"v":35},{"h":865,"v":38},{"h":867,"v":48},{"h":869,"v":45},{"h":871,"v":50},{"h":873,"v":58},
{"h":876,"v":70},{"h":878,"v":60},{"h":880,"v":80},{"h":882,"v":75},{"h":884,"v":100},{"h":886,"v":150},{"h":887,"v":200},{"h":888,"v":250},{"h":889,"v":275},{"h":875,"v":65},{"h":877,"v":65},{"h":879,"v":70},{"h":881,"v":78},{"h":883,"v":85},{"h":885,"v":125},{"h":886.5,"v":175},{"h":887.5,"v":225},
{"h":889.3,"v":300},{"h":889.6,"v":330},{"h":889.9,"v":358},
{"h":890,"v":50},{"h":892,"v":40},{"h":894,"v":30},{"h":896,"v":45},{"h":898,"v":50},{"h":900,"v":40},{"h":902,"v":30},{"h":891,"v":45},{"h":893,"v":35},{"h":895,"v":38},{"h":897,"v":48},{"h":899,"v":45},{"h":901,"v":35},
{"h":900,"v":160},{"h":901,"v":185},{"h":902,"v":200},{"h":903,"v":190},{"h":904,"v":170},{"h":905,"v":150},
{"h":906,"v":70},{"h":908,"v":80},{"h":910,"v":88},{"h":912,"v":75},{"h":914,"v":65},{"h":916,"v":60},{"h":918,"v":70},{"h":920,"v":80},{"h":922,"v":85},{"h":907,"v":75},{"h":909,"v":85},{"h":911,"v":80},{"h":913,"v":70},{"h":915,"v":62},{"h":917,"v":65},{"h":919,"v":75},{"h":921,"v":82},
{"h":924,"v":260},{"h":925,"v":280},{"h":926,"v":300},{"h":927,"v":320},{"h":928,"v":340},{"h":929,"v":358},
{"h":931,"v":50},{"h":933,"v":40},{"h":935,"v":55},{"h":937,"v":45},{"h":939,"v":35},{"h":941,"v":50},{"h":943,"v":40},{"h":932,"v":45},{"h":934,"v":48},{"h":936,"v":50},{"h":938,"v":40},{"h":940,"v":42},{"h":942,"v":45},
{"h":946,"v":355},{"h":950,"v":345},{"h":954,"v":358},{"h":958,"v":350},{"h":948,"v":45},{"h":952,"v":55},{"h":956,"v":40},{"h":960,"v":30},{"h":945,"v":50},{"h":947,"v":48},{"h":949,"v":52},{"h":951,"v":50},{"h":953,"v":45},{"h":955,"v":42},{"h":957,"v":35},{"h":959,"v":32},
{"h":962,"v":35},{"h":964,"v":30},{"h":966,"v":20},{"h":968,"v":10},{"h":970,"v":5},{"h":972,"v":15},{"h":974,"v":5}
]
},
"vconcat": [
{
 "title": "Vindretning (mot) ved Helligvær målestasjon",
 "width": 744, "height": 192,
 "data": {"name": "wind"},
 "layer": [
  {"mark": {"type": "circle", "size": 12, "color": "#00cc66", "opacity": 1},
   "encoding": {
    "x": {"field": "h", "type": "quantitative", "scale": {"domain": [19, 975], "nice": false, "zero": false}, "axis": {"values": [48, 168, 288, 408, 528, 648, 768, 888], "labels": false, "title": null, "grid": true}},
    "y": {"field": "v", "type": "quantitative", "scale": {"domain": [0, 360], "nice": false}, "axis": {"values": [0, 100, 200, 300], "title": "[°]", "grid": true}}
   }},
  {"mark": {"type": "circle", "size": 0, "opacity": 0},
   "encoding": {
    "x": {"field": "h", "type": "quantitative", "axis": {"orient": "top", "values": [48, 168, 288, 408, 528, 648, 768, 888], "labels": false, "title": null, "grid": false}},
    "y": {"field": "v", "type": "quantitative", "axis": {"orient": "right", "values": [0, 100, 200, 300], "labels": false, "title": null, "grid": false}}
   }}
 ],
 "resolve": {"axis": {"x": "independent", "y": "independent"}}
},
{
 "title": "Reststrømretning (mot), 5 m dybde",
 "width": 744, "height": 192,
 "data": {"name": "cur"},
 "layer": [
  {"mark": {"type": "circle", "size": 15, "color": "#0072bd", "opacity": 1},
   "encoding": {
    "x": {"field": "h", "type": "quantitative", "scale": {"domain": [19, 975], "nice": false, "zero": false}, "axis": {"values": [48, 168, 288, 408, 528, 648, 768, 888], "title": null, "grid": true, "labelExpr": "datum.value == 48 ? '29/08' : datum.value == 168 ? '03/09' : datum.value == 288 ? '08/09' : datum.value == 408 ? '13/09' : datum.value == 528 ? '18/09' : datum.value == 648 ? '23/09' : datum.value == 768 ? '28/09' : '03/10'"}},
    "y": {"field": "v", "type": "quantitative", "scale": {"domain": [0, 360], "nice": false}, "axis": {"values": [0, 100, 200, 300], "title": "[°]", "grid": true}}
   }},
  {"mark": {"type": "circle", "size": 0, "opacity": 0},
   "encoding": {
    "x": {"field": "h", "type": "quantitative", "axis": {"orient": "top", "values": [48, 168, 288, 408, 528, 648, 768, 888], "labels": false, "title": null, "grid": false}},
    "y": {"field": "v", "type": "quantitative", "axis": {"orient": "right", "values": [0, 100, 200, 300], "labels": false, "title": null, "grid": false}}
   }}
 ],
 "resolve": {"axis": {"x": "independent", "y": "independent"}}
}
]
}
